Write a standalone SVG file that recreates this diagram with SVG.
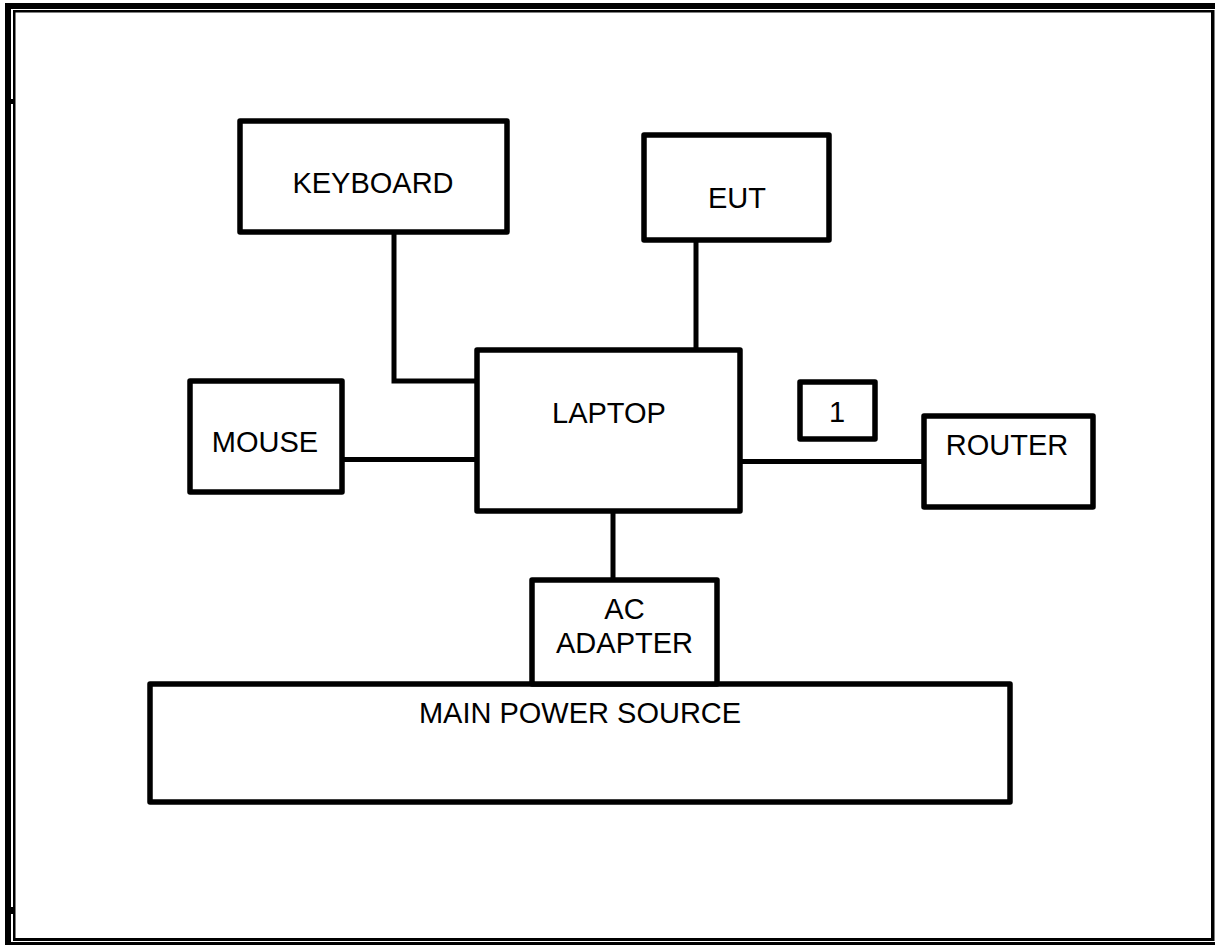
<svg xmlns="http://www.w3.org/2000/svg" width="1215" height="945" viewBox="0 0 1215 945">
<style>
.box{fill:#fff;stroke:#000;stroke-width:5.5;stroke-linejoin:round}
.wire{fill:none;stroke:#000;stroke-width:5;stroke-linejoin:miter}
.lbl{font-family:"Liberation Sans",Arial,sans-serif;font-size:29px;fill:#000;text-anchor:middle}
</style>
<rect width="1215" height="945" fill="#fff"/>
<g id="frame" fill="#000">
<rect x="5" y="3" width="1210" height="6"/>
<rect x="5" y="3" width="6" height="942"/>
<rect x="13" y="10" width="1201" height="2.5"/>
<rect x="13" y="10" width="2.5" height="931"/>
<rect x="1211" y="10" width="3.5" height="931"/>
<rect x="13" y="938" width="1201" height="3"/>
<rect x="5" y="942" width="1210" height="3"/>
<rect x="5" y="99" width="10" height="5"/>
<rect x="5" y="907" width="10" height="7"/>
</g>
<g id="connectors">
<polyline class="wire" points="394,232 394,381 477,381"/>
<line class="wire" x1="696" y1="240" x2="696" y2="350"/>
<line class="wire" x1="342" y1="459.5" x2="477" y2="459.5"/>
<line class="wire" x1="740" y1="461.5" x2="924" y2="461.5"/>
<line class="wire" x1="613" y1="511" x2="613" y2="580"/>
</g>
<g id="keyboard"><rect class="box" x="240" y="121" width="267" height="111"/><text class="lbl" x="373" y="193">KEYBOARD</text></g>
<g id="eut"><rect class="box" x="644" y="135" width="185" height="105"/><text class="lbl" x="737" y="208">EUT</text></g>
<g id="laptop"><rect class="box" x="477" y="350" width="263" height="161"/><text class="lbl" x="609" y="423">LAPTOP</text></g>
<g id="mouse"><rect class="box" x="190" y="381" width="152" height="111"/><text class="lbl" x="265" y="452">MOUSE</text></g>
<g id="label1"><rect class="box" x="800" y="382" width="75" height="57"/><text class="lbl" x="837" y="422">1</text></g>
<g id="router"><rect class="box" x="924" y="416" width="169" height="91"/><text class="lbl" x="1007" y="455">ROUTER</text></g>
<g id="mainpower"><rect class="box" x="150" y="684" width="860" height="118"/><text class="lbl" x="580" y="723">MAIN POWER SOURCE</text></g>
<g id="acadapter"><rect class="box" x="532" y="580" width="185" height="104"/><text class="lbl" x="624.5" y="619">AC</text><text class="lbl" x="624.5" y="653">ADAPTER</text></g>
</svg>
